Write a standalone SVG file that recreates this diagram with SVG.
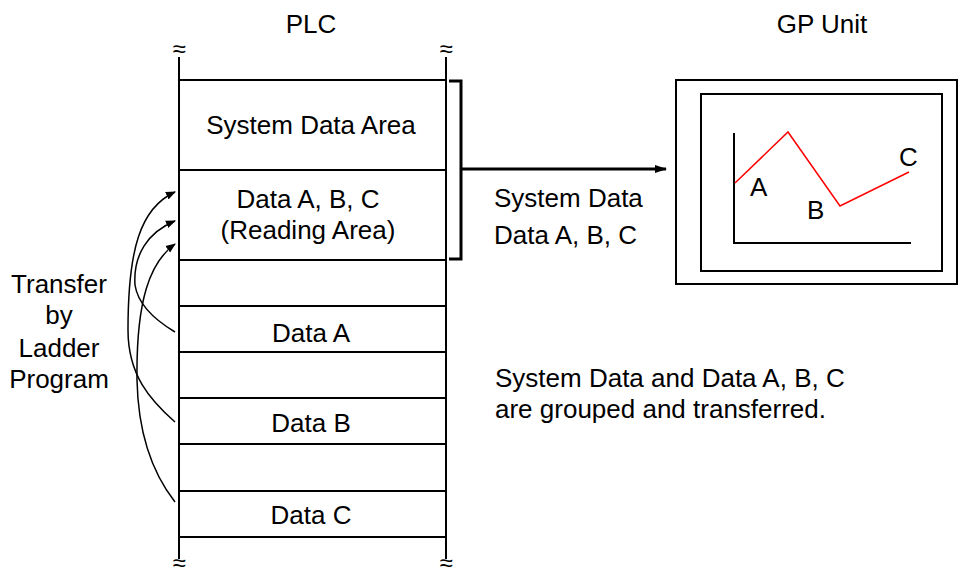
<svg xmlns="http://www.w3.org/2000/svg" width="968" height="576" viewBox="0 0 968 576">
<style>
text{font-family:"Liberation Sans",Arial,sans-serif;font-size:26px;fill:#000}
.c{text-anchor:middle}
.sq{font-size:24px}
.ln{stroke:#000;stroke-width:2;fill:none}
.cv{stroke:#000;stroke-width:1.5;fill:none;marker-end:url(#ah)}
</style>
<defs>
<marker id="ah" markerWidth="10" markerHeight="10" refX="9" refY="5" orient="auto" markerUnits="userSpaceOnUse">
<path d="M0,1 L10,5 L0,9 Z" fill="#000"/>
</marker>
<marker id="ah2" markerWidth="12" markerHeight="12" refX="11" refY="6" orient="auto" markerUnits="userSpaceOnUse">
<path d="M0,2 L12,6 L0,10 Z" fill="#000"/>
</marker>
</defs>
<rect width="968" height="576" fill="#fff"/>

<g id="plc">
<text class="c" x="311" y="33">PLC</text>
<text class="c sq" x="179" y="57">≈</text>
<text class="c sq" x="446" y="57">≈</text>
<text class="c sq" x="179" y="571">≈</text>
<text class="c sq" x="446" y="571">≈</text>
<line class="ln" x1="179" y1="57" x2="179" y2="559"/>
<line class="ln" x1="446" y1="57" x2="446" y2="559"/>
<line class="ln" x1="179" y1="80" x2="446" y2="80"/>
<line class="ln" x1="179" y1="170" x2="446" y2="170"/>
<line class="ln" x1="179" y1="260" x2="446" y2="260"/>
<line class="ln" x1="179" y1="306" x2="446" y2="306"/>
<line class="ln" x1="179" y1="352" x2="446" y2="352"/>
<line class="ln" x1="179" y1="398" x2="446" y2="398"/>
<line class="ln" x1="179" y1="444" x2="446" y2="444"/>
<line class="ln" x1="179" y1="491" x2="446" y2="491"/>
<line class="ln" x1="179" y1="537" x2="446" y2="537"/>
</g>

<g id="system-data-area"><text class="c" x="311" y="134">System Data Area</text></g>
<g id="reading-area">
<text class="c" x="308" y="208">Data A, B, C</text>
<text class="c" x="308" y="239">(Reading Area)</text>
</g>
<g id="data-a"><text class="c" x="311" y="342">Data A</text></g>
<g id="data-b"><text class="c" x="311" y="432">Data B</text></g>
<g id="data-c"><text class="c" x="311" y="524">Data C</text></g>

<g id="transfer-label">
<text class="c" x="59" y="293">Transfer</text>
<text class="c" x="59" y="324">by</text>
<text class="c" x="59" y="357">Ladder</text>
<text class="c" x="59" y="388">Program</text>
</g>

<g id="gp-unit">
<text class="c" x="822" y="33">GP Unit</text>
<rect x="676" y="80" width="281" height="204" class="ln"/>
<rect x="701" y="94" width="241" height="177" class="ln"/>
<polyline points="734,133 734,243 911,243" class="ln"/>
<polyline points="735,183 788,132 840,206 909,172" fill="none" stroke="#ff0000" stroke-width="1.5"/>
<text x="750" y="196">A</text>
<text x="807" y="219">B</text>
<text x="899" y="166">C</text>
</g>

<g id="connectors">
<polyline points="449,81 461,81 461,259 449,259" fill="none" stroke="#000" stroke-width="3"/>
<line x1="461" y1="169" x2="666" y2="169" stroke="#000" stroke-width="3" marker-end="url(#ah2)"/>
<path class="cv" d="M175,422 C150,400 128,375 128,330 C128,250 140,208 175,192"/>
<path class="cv" d="M175,332 C155,320 138,305 135,285 C133,255 148,232 175,221"/>
<path class="cv" d="M175,502 C150,470 138,430 137,380 C136,300 150,262 175,244"/>
</g>

<g id="transfer-text">
<text x="494" y="207">System Data</text>
<text x="494" y="244">Data A, B, C</text>
<text x="495" y="387">System Data and Data A, B, C</text>
<text x="495" y="418">are grouped and transferred.</text>
</g>
</svg>
